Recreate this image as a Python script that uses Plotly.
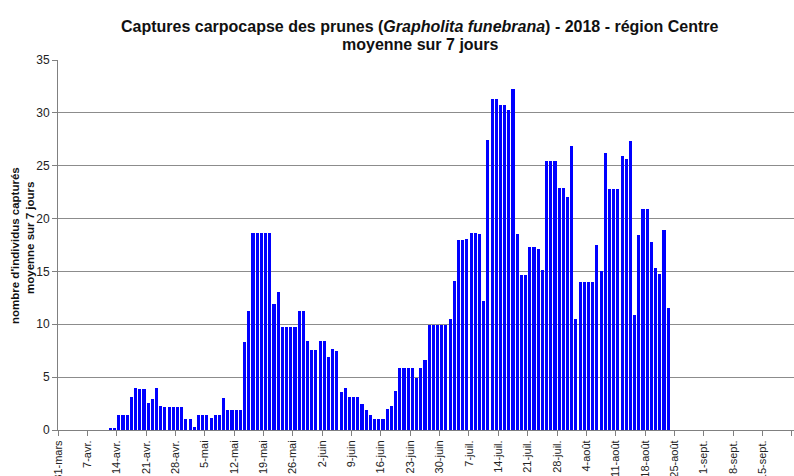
import datetime as dt
import plotly.graph_objects as go

# Data: 7-day mean captures, daily values starting 12 April 2018
axis_start = dt.date(2018, 3, 31)
data_start = dt.date(2018, 4, 12)
values = [
    0.2, 0.2, 1.4, 1.4, 1.4, 3.1, 4.0, 3.85, 3.85, 2.6,
    2.9, 4.0, 2.3, 2.15, 2.15, 2.15, 2.15, 2.15, 1.0, 1.0,
    0.3, 1.4, 1.4, 1.4, 1.15, 1.4, 1.4, 3.05, 1.85, 1.85,
    1.85, 1.85, 8.3, 11.3, 18.6, 18.6, 18.6, 18.6, 18.6, 11.9,
    13.05, 9.76, 9.76, 9.76, 9.76, 11.3, 11.3, 8.45, 7.6, 7.6,
    8.43, 8.43, 6.9, 7.7, 7.45, 3.63, 4.0, 3.1, 3.1, 3.1,
    2.46, 1.9, 1.4, 1.0, 1.0, 1.0, 2.0, 2.3, 3.73, 5.9,
    5.9, 5.9, 5.9, 4.9, 5.9, 6.6, 9.95, 9.95, 9.95, 9.95,
    9.95, 10.5, 14.05, 18.0, 18.0, 18.05, 18.6, 18.6, 18.5, 12.2,
    27.4, 31.3, 31.3, 30.76, 30.76, 30.3, 32.3, 18.5, 14.65, 14.65,
    17.3, 17.3, 17.1, 15.1, 25.4, 25.4, 25.4, 22.9, 22.9, 22.0,
    26.9, 10.5, 14.0, 14.0, 14.0, 14.0, 17.5, 15.05, 26.2, 22.8,
    22.8, 22.8, 25.9, 25.6, 27.3, 10.9, 18.4, 20.9, 20.9, 17.8,
    15.3, 14.8, 18.9, 11.5,
]
tick_labels = [
    "31-mars", "7-avr.", "14-avr.", "21-avr.", "28-avr.", "5-mai", "12-mai",
    "19-mai", "26-mai", "2-juin", "9-juin", "16-juin", "23-juin", "30-juin",
    "7-juil.", "14-juil.", "21-juil.", "28-juil.", "4-août", "11-août",
    "18-août", "25-août", "1-sept.", "8-sept.", "15-sept.", "22-sept.",
]
title_lines = [
    "Captures carpocapse des prunes (<i>Grapholita funebrana</i>) - 2018 - région Centre",
    "moyenne sur 7 jours",
]
ytitle_lines = ["nombre d'individus capturés", "moyenne sur 7 jours"]

offset = (data_start - axis_start).days
x_days = [offset + i + 0.5 for i in range(len(values))]
tick_vals = [7 * i for i in range(len(tick_labels))]

FONT = "Liberation Sans, Arial, sans-serif"
W, H = 794, 476
L, R, T, B = 58, 0, 60, 46

fig = go.Figure()
fig.add_trace(go.Bar(
    x=x_days, y=values, width=0.74,
    marker=dict(color="#0000FF", line=dict(width=0)),
    hoverinfo="y",
))

fig.update_layout(
    width=W, height=H,
    margin=dict(l=L, r=R, t=T, b=B),
    paper_bgcolor="white", plot_bgcolor="white",
    showlegend=False,
    font=dict(family=FONT, color="#222222"),
    xaxis=dict(
        range=[0, 175.5],
        tickmode="array", tickvals=tick_vals, ticktext=tick_labels,
        tickangle=-90, ticks="outside", ticklen=5, tickcolor="#808080",
        tickfont=dict(family=FONT, size=11, color="#222222"),
        showgrid=False, showline=True, linecolor="#808080", linewidth=1,
        zeroline=False, automargin=False,
    ),
    yaxis=dict(
        range=[0, 35], dtick=5, tick0=0,
        ticks="outside", ticklen=5, tickcolor="#808080",
        tickfont=dict(family=FONT, size=12, color="#222222"),
        showgrid=True, gridcolor="#8c8c8c", gridwidth=1,
        showline=True, linecolor="#808080", linewidth=1,
        zeroline=False, automargin=False,
    ),
    bargap=0,
)

# Title lines (two separate annotations for exact spacing)
for txt, py in zip(title_lines, [26, 44]):
    fig.add_annotation(
        text="<b>" + txt + "</b>",
        xref="paper", yref="paper",
        x=(420 - L) / (W - L - R), y=1 + (T - py) / (H - T - B),
        xanchor="center", yanchor="middle", showarrow=False,
        font=dict(family=FONT, size=16, color="#111111"),
    )

# Y-axis title (two rotated lines)
for txt, px, py in zip(ytitle_lines, [15, 30], [246, 238]):
    fig.add_annotation(
        text="<b>" + txt + "</b>",
        xref="paper", yref="paper",
        x=(px - L) / (W - L - R), y=(H - B - py) / (H - T - B),
        xanchor="center", yanchor="middle", textangle=-90, showarrow=False,
        font=dict(family=FONT, size=11.5, color="#111111"),
    )

fig.write_html("out.html", config={"displayModeBar": False},
               post_script="document.body.style.margin='0';")
